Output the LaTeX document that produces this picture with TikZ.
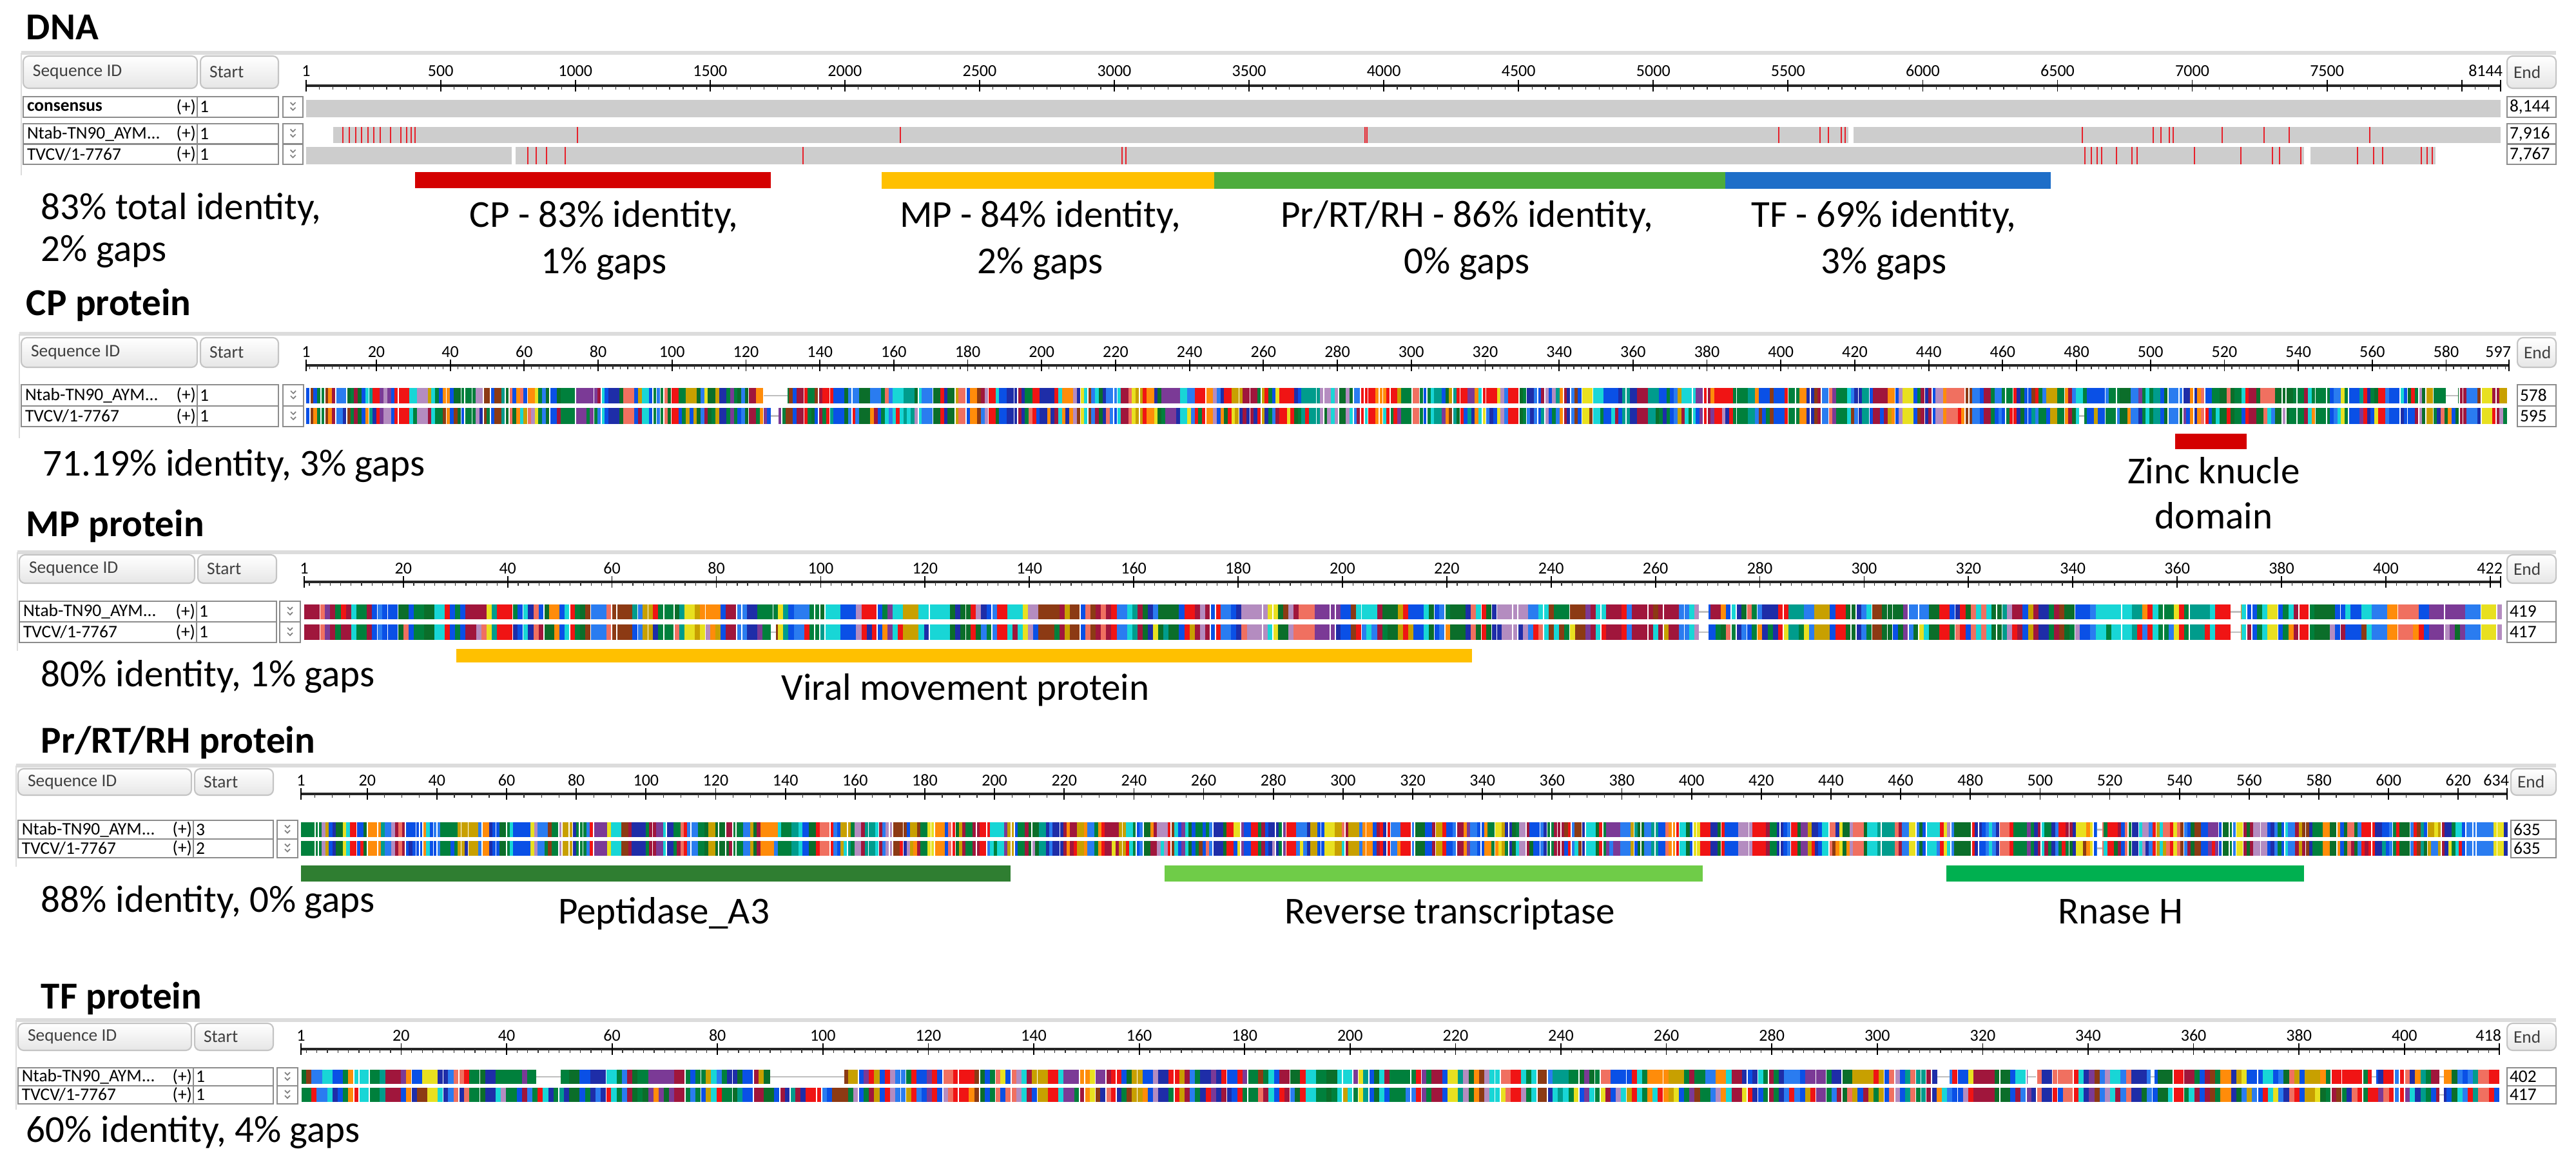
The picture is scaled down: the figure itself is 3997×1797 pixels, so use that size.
\documentclass[tikz,border=0pt]{standalone}
\usepackage{fontspec}
\setmainfont{Carlito}
\usetikzlibrary{positioning}

\definecolor{panelgray}{HTML}{DCDCDC}
\definecolor{boxgray}{HTML}{C4C4C4}
\definecolor{headfill}{HTML}{E6E6E6}
\definecolor{rowgray}{HTML}{8C8C8C}
\definecolor{textgray}{HTML}{404040}
\definecolor{seqgray}{HTML}{CDCDCD}
\definecolor{mutred}{HTML}{E8202A}
\definecolor{cpred}{HTML}{D40000}
\definecolor{mpyellow}{HTML}{FFC000}
\definecolor{prgreen}{HTML}{4DAC3C}
\definecolor{tfblue}{HTML}{1E6EC8}
\definecolor{peptgreen}{HTML}{2F7E31}
\definecolor{rtgreen}{HTML}{6FCC48}
\definecolor{rhgreen}{HTML}{00B050}
% residue colours
\definecolor{aa1}{HTML}{00803C}
\definecolor{aa2}{HTML}{0A50E6}
\definecolor{aa3}{HTML}{1E2DA8}
\definecolor{aa4}{HTML}{F01414}
\definecolor{aa5}{HTML}{A0163C}
\definecolor{aa6}{HTML}{7B3A96}
\definecolor{aa7}{HTML}{18D6D6}
\definecolor{aa8}{HTML}{FF8C0A}
\definecolor{aa9}{HTML}{C8A000}
\definecolor{aa10}{HTML}{E8E020}
\definecolor{aa11}{HTML}{009C8C}
\definecolor{aa12}{HTML}{B48CC0}
\definecolor{aa13}{HTML}{0B6E2A}
\definecolor{aa14}{HTML}{2A7CF0}
\definecolor{aa15}{HTML}{8C3A14}
\definecolor{aa16}{HTML}{F07060}
\definecolor{aa17}{HTML}{00803C}
\definecolor{aa18}{HTML}{0A50E6}
\definecolor{aa19}{HTML}{F01414}
\definecolor{aa20}{HTML}{0B6E2A}
\definecolor{aa21}{HTML}{1E2DA8}
\definecolor{aa22}{HTML}{A0163C}
\definecolor{aa23}{HTML}{18D6D6}
\definecolor{aa24}{HTML}{2A7CF0}
\definecolor{aa25}{HTML}{00803C}
\definecolor{aa26}{HTML}{0A50E6}

\newcommand{\bigfont}{\fontsize{16.8}{20}\selectfont}
\newcommand{\titlefont}{\fontsize{16.8}{20}\selectfont\bfseries}
\newcommand{\uifont}{\fontsize{7.8}{9}\selectfont}
\newcommand{\axisfont}{\fontsize{7.4}{9}\selectfont}

% header of one alignment panel
\newcommand{\panelhead}[9]{%
  \draw[panel_line] (#5-3,#2) -- (3966,#2);
  \draw[panel_side] (#5-3,#2) -- (#5-3,#9);
  \draw[head_box] (#5,#3) rectangle (#6-3,#4);
  \draw[head_box] (#6+2,#3) rectangle (#7,#4);
  \draw[head_box] (#8,#3) rectangle (3966,#4);
  \node[head_text, anchor=west] (#1_seqid) at (#5+15,{(#3+#4)/2}) {Sequence ID};
  \node[head_text, anchor=west] (#1_start) at (#6+16,{(#3+#4)/2}) {Start};
  \node[head_text, anchor=west] (#1_end) at (#8+10,{(#3+#4)/2}) {End};
}

% ruler: prefix, y, x of 1, x of N, N, minor step, major step, label y
\newcommand{\seqaxis}[8]{%
  \pgfmathsetmacro{\axscale}{(#4-#3)/(#5-1)}
  \draw[axis_line] (#3,#2) -- (#4,#2);
  \draw[major_tick] (#3,#2-9) -- (#3,#2+9);
  \draw[major_tick] (#4,#2-9) -- (#4,#2+9);
  \pgfmathtruncatemacro{\nminor}{(#5-1)/#6}
  \foreach \k in {1,...,\nminor}{
    \draw[minor_tick] ({#3+(\k*#6-1)*\axscale},#2) -- ++(0,6);
  }
  \pgfmathtruncatemacro{\nmajor}{(#5-1)/#7}
  \foreach \k in {1,...,\nmajor}{
    \pgfmathsetmacro{\xx}{#3+(\k*#7-1)*\axscale}
    \pgfmathtruncatemacro{\pp}{\k*#7}
    \pgfmathtruncatemacro{\showlbl}{((#5-\pp)*\axscale>70) ? 1 : 0}
    \draw[major_tick] (\xx,#2-9) -- (\xx,#2+9);
    \ifnum\showlbl=1 \node[axis_text] (#1_lbl_\pp) at (\xx,#8) {\pp};\fi
  }
  \node[axis_text] (#1_lbl_first) at (#3,#8) {1};
  \node[axis_text, anchor=east] (#1_lbl_last) at (#4+3,#8) {#5};
}

% name / start cells of one sequence row
\newcommand{\seqrow}[8]{%
  \draw[row_box] (#4,#2) rectangle (#6,#3);
  \draw[row_box] (#5,#2) -- (#5,#3);
  \node[row_text, anchor=west] (#1_name) at (#4+6,{(#2+#3)/2}) {#7};
  \node[row_text, anchor=east] (#1_strand) at (#5-2,{(#2+#3)/2}) {(+)};
  \node[row_text, anchor=west] (#1_from) at (#5+4,{(#2+#3)/2}) {#8};
}

\newcommand{\dropbox}[4]{%
  \pgfmathsetmacro{\cx}{(#1+#2)/2}
  \pgfmathsetmacro{\cy}{(#3+#4)/2}
  \draw[row_box] (#1,#3) rectangle (#2,#4);
  \draw[chevron] (\cx-4,\cy-7) -- (\cx,\cy-3) -- (\cx+4,\cy-7);
  \draw[chevron] (\cx-4,\cy+1) -- (\cx,\cy+5) -- (\cx+4,\cy+1);
}

\newcommand{\lastcell}[5]{%
  \draw[row_box] (#2,#3) rectangle (3966,#4);
  \node[row_text, anchor=west] (#1) at (#2+4,{(#3+#4)/2}) {#5};
}

% two aligned rows of residues: seed, x0, width, N, y top/bottom row 1, row 2, identity
\newcommand{\aarows}[9]{%
  \pgfmathsetseed{#1}
  \gdef\prevca{1}
  \foreach \k in {1,...,#4}{
    \pgfmathsetmacro{\xa}{#2+(\k-1)*#3}
    \pgfmathsetmacro{\xb}{\xa+#3+0.4}
    \pgfmathrandominteger{\ca}{1}{26}
    \pgfmathrandominteger{\cb}{1}{26}
    \pgfmathrandominteger{\rr}{1}{100}
    \pgfmathrandominteger{\rs}{1}{100}
    \pgfmathrandominteger{\rw}{1}{100}
    \ifnum\rs<35 \let\ca\prevca\fi
    \xdef\prevca{\ca}
    \ifnum\rr>#9\relax\else\let\cb\ca\fi
    \fill[aa\ca] (\xa,#5) rectangle (\xb,#6);
    \fill[aa\cb] (\xa,#7) rectangle (\xb,#8);
    \ifnum\rw<20 \fill[white] (\xa-0.6,#5) rectangle (\xa+1.0,#8);\fi
  }
}

\newcommand{\gapblock}[4]{%
  \fill[white] (#1,#3) rectangle (#2,#4);
  \draw[gap_line] (#1,{(#3+#4)/2}) -- (#2,{(#3+#4)/2});
}

\begin{document}
\begin{tikzpicture}[x=0.01cm, y=-0.01cm,
  every node/.style={inner sep=0pt, outer sep=0pt},
  title_text/.style={font=\titlefont, anchor=base west},
  big_text/.style={font=\bigfont, anchor=base},
  head_text/.style={font=\uifont, text=textgray},
  row_text/.style={font=\uifont, text=black},
  axis_text/.style={font=\axisfont, text=black},
  panel_line/.style={draw=panelgray, line width=1.6pt},
  panel_side/.style={draw=panelgray, line width=0.6pt},
  head_box/.style={draw=boxgray, rounded corners=2.5pt, top color=white, bottom color=headfill, line width=0.6pt},
  row_box/.style={draw=rowgray, fill=white, line width=0.7pt},
  chevron/.style={draw=gray, line width=0.5pt},
  axis_line/.style={draw=black!85, line width=0.9pt},
  major_tick/.style={draw=black, line width=0.5pt},
  minor_tick/.style={draw=black!80, line width=0.35pt},
  seq_gray/.style={fill=seqgray},
  mut_line/.style={draw=mutred, line width=0.55pt},
  gap_line/.style={draw=black!25, line width=0.8pt}
]
\fill[white] (0,0) rectangle (3997,1797);
\useasboundingbox (0,0) rectangle (3997,1797);

%%% DNA
\node[title_text] (dna_title) at (41,62) {DNA};
\panelhead{dna}{82}{87}{137}{36}{309}{432}{3890}{272}
\seqaxis{dna}{133}{475}{3880}{8144}{50}{500}{110}

\seqrow{dna_cons}{150}{182}{36}{306}{432}{\textbf{consensus}}{1}
\seqrow{dna_ntab}{192}{223}{36}{306}{432}{Ntab-TN90\_AYM...}{1}
\seqrow{dna_tvcv}{224}{255}{36}{306}{432}{TVCV/1-7767}{1}
\dropbox{439}{470}{150}{182}
\dropbox{439}{470}{192}{223}
\dropbox{439}{470}{224}{255}
\lastcell{dna_end_cons}{3890}{150}{182}{8,144}
\lastcell{dna_end_ntab}{3890}{192}{223}{7,916}
\lastcell{dna_end_tvcv}{3890}{224}{255}{7,767}

\fill[seq_gray] (475,155) rectangle (3880,182);
\fill[seq_gray] (517,197) rectangle (3880,222);
\fill[seq_gray] (475,228) rectangle (3779,255);
\fill[white] (794,228) rectangle (800,255);
\fill[white] (3575,228) rectangle (3585,255);
\fill[white] (2868,197) rectangle (2876,222);
\foreach \x in {532,542,552,561,571,580,590,606,622,631,638,644,896,1397,2118,2121,
                2760,2824,2837,2857,2863,3231,3341,3353,3366,3372,3448,3513,3552,3677}
  \draw[mut_line] (\x,197) -- (\x,222);
\foreach \x in {819,832,848,877,1246,1741,1747,3235,3245,3254,3261,3284,3308,3316,
                3405,3477,3526,3537,3570,3658,3683,3697,3757,3766,3774}
  \draw[mut_line] (\x,228) -- (\x,255);

\fill[cpred] (644,267) rectangle (1196,292);
\fill[mpyellow] (1368,267) rectangle (1884,293);
\fill[prgreen] (1884,267) rectangle (2677,293);
\fill[tfblue] (2677,267) rectangle (3182,293);

\node[title_text, font=\bigfont] (dna_ident_a) at (64,340) {83\% total identity,};
\node[title_text, font=\bigfont] (dna_ident_b) at (64,405) {2\% gaps};
\node[big_text] (cp_seg_a) at (937,352) {CP - 83\% identity,};
\node[big_text] (cp_seg_b) at (937,424) {1\% gaps};
\node[big_text] (mp_seg_a) at (1614,352) {MP - 84\% identity,};
\node[big_text] (mp_seg_b) at (1614,424) {2\% gaps};
\node[big_text] (pr_seg_a) at (2276,352) {Pr/RT/RH - 86\% identity,};
\node[big_text] (pr_seg_b) at (2276,424) {0\% gaps};
\node[big_text] (tf_seg_a) at (2923,352) {TF - 69\% identity,};
\node[big_text] (tf_seg_b) at (2923,424) {3\% gaps};

%%% CP protein
\node[title_text] (cp_title) at (41,489) {CP protein};
\panelhead{cp}{518}{524}{570}{33}{309}{432}{3906}{680}
\seqaxis{cp}{567}{475}{3893}{597}{2}{20}{546}
\aarows{11}{475}{5.72}{597}{602}{626}{633}{658}{71}
\gapblock{1185}{1222}{602}{626}
\gapblock{1196}{1208}{633}{658}
\gapblock{3795}{3814}{602}{626}
\gapblock{3226}{3234}{633}{658}
\seqrow{cp_ntab}{597}{630}{33}{306}{432}{Ntab-TN90\_AYM...}{1}
\seqrow{cp_tvcv}{630}{662}{33}{306}{432}{TVCV/1-7767}{1}
\dropbox{439}{471}{597}{630}
\dropbox{439}{471}{630}{662}
\lastcell{cp_end_ntab}{3906}{597}{630}{578}
\lastcell{cp_end_tvcv}{3906}{630}{662}{595}

\fill[cpred] (3375,673) rectangle (3486,697);
\node[title_text, font=\bigfont] (cp_ident) at (67,738) {71.19\% identity, 3\% gaps};
\node[big_text] (zinc_a) at (3435,750) {Zinc knucle};
\node[big_text] (zinc_b) at (3435,820) {domain};

%%% MP protein
\node[title_text] (mp_title) at (41,832) {MP protein};
\panelhead{mp}{857}{861}{905}{30}{305}{429}{3890}{1010}
\seqaxis{mp}{903}{472}{3880}{422}{2}{20}{882}
\aarows{23}{472}{8.08}{422}{938}{961}{969}{993}{80}
\gapblock{2636}{2651}{938}{961}
\gapblock{2636}{2651}{969}{993}
\gapblock{3461}{3477}{938}{961}
\gapblock{3461}{3477}{969}{993}
\gapblock{1196}{1204}{969}{993}
\seqrow{mp_ntab}{933}{965}{30}{305}{429}{Ntab-TN90\_AYM...}{1}
\seqrow{mp_tvcv}{965}{997}{30}{305}{429}{TVCV/1-7767}{1}
\dropbox{434}{466}{933}{965}
\dropbox{434}{466}{965}{997}
\lastcell{mp_end_ntab}{3890}{933}{965}{419}
\lastcell{mp_end_tvcv}{3890}{965}{997}{417}

\fill[mpyellow] (708,1007) rectangle (2284,1028);
\node[title_text, font=\bigfont] (mp_ident) at (64,1065) {80\% identity, 1\% gaps};
\node[big_text] (vmp_label) at (1498,1086) {Viral movement protein};

%%% Pr/RT/RH protein
\node[title_text] (pr_title) at (64,1168) {Pr/RT/RH protein};
\panelhead{pr}{1188}{1193}{1234}{28}{300}{424}{3896}{1345}
\seqaxis{pr}{1232}{467}{3890}{634}{5}{20}{1211}
\aarows{37}{467}{5.4}{634}{1276}{1299}{1305}{1328}{88}
\gapblock{3254}{3262}{1276}{1299}
\gapblock{3254}{3262}{1305}{1328}
\seqrow{pr_ntab}{1273}{1302}{28}{300}{424}{Ntab-TN90\_AYM...}{3}
\seqrow{pr_tvcv}{1302}{1331}{28}{300}{424}{TVCV/1-7767}{2}
\dropbox{430}{462}{1273}{1302}
\dropbox{430}{462}{1302}{1331}
\lastcell{pr_end_ntab}{3896}{1273}{1302}{635}
\lastcell{pr_end_tvcv}{3896}{1302}{1331}{635}

\fill[peptgreen] (467,1343) rectangle (1568,1368);
\fill[rtgreen] (1807,1343) rectangle (2642,1368);
\fill[rhgreen] (3020,1343) rectangle (3575,1368);
\node[title_text, font=\bigfont] (pr_ident) at (64,1415) {88\% identity, 0\% gaps};
\node[big_text] (pept_label) at (1030,1433) {Peptidase\_A3};
\node[big_text] (rt_label) at (2250,1433) {Reverse transcriptase};
\node[big_text] (rh_label) at (3290,1433) {Rnase H};

%%% TF protein
\node[title_text] (tf_title) at (64,1565) {TF protein};
\panelhead{tf}{1583}{1588}{1630}{28}{300}{424}{3890}{1722}
\seqaxis{tf}{1628}{467}{3878}{418}{2}{20}{1607}
\aarows{53}{467}{8.16}{418}{1660}{1682}{1688}{1710}{60}
\gapblock{832}{870}{1660}{1682}
\gapblock{1195}{1310}{1660}{1682}
\gapblock{3006}{3025}{1660}{1682}
\gapblock{3146}{3159}{1660}{1682}
\gapblock{3337}{3343}{1660}{1682}
\gapblock{3680}{3687}{1660}{1682}
\gapblock{3785}{3792}{1660}{1682}
\gapblock{3785}{3792}{1688}{1710}
\seqrow{tf_ntab}{1657}{1685}{28}{300}{424}{Ntab-TN90\_AYM...}{1}
\seqrow{tf_tvcv}{1685}{1713}{28}{300}{424}{TVCV/1-7767}{1}
\dropbox{430}{462}{1657}{1685}
\dropbox{430}{462}{1685}{1713}
\lastcell{tf_end_ntab}{3890}{1657}{1685}{402}
\lastcell{tf_end_tvcv}{3890}{1685}{1713}{417}

\node[title_text, font=\bigfont] (tf_ident) at (41,1772) {60\% identity, 4\% gaps};
\end{tikzpicture}
\end{document}
